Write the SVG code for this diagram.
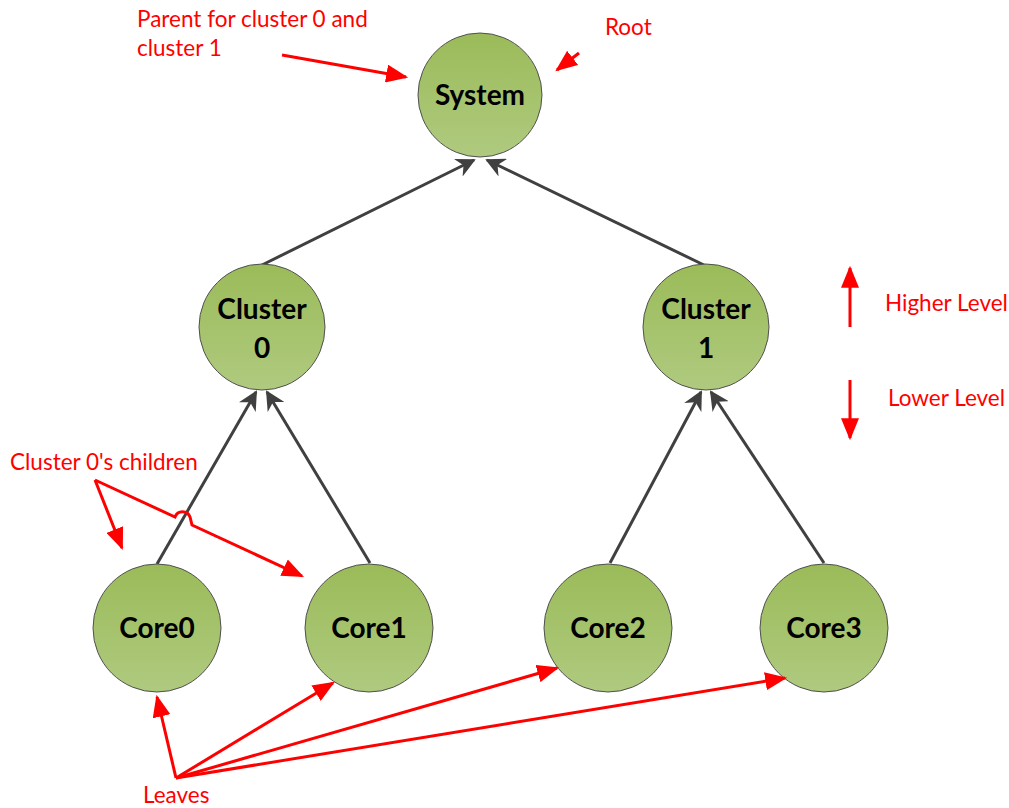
<svg xmlns="http://www.w3.org/2000/svg" width="1009" height="808" viewBox="0 0 1009 808">
<style>
.node{stroke:#505050;stroke-width:1;fill:url(#g)}
.nt{font-family:Lato,"Open Sans",sans-serif;font-weight:bold;font-size:28px;fill:#000;text-anchor:middle}
.edge{stroke:#404040;stroke-width:3;fill:none;marker-end:url(#ga)}
.ann{stroke:#ff0000;stroke-width:3;fill:none;marker-end:url(#ra)}
.at{font-family:Lato,"Open Sans",sans-serif;font-size:22.5px;fill:#ff0000}
</style>
<defs>
<linearGradient id="g" x1="0" y1="0" x2="0" y2="1">
<stop offset="0" stop-color="#9bbb59"/>
<stop offset="1" stop-color="#afca7f"/>
</linearGradient>
<marker id="ga" viewBox="0 0 10 10" refX="9" refY="5" markerWidth="6.5" markerHeight="6.5" orient="auto" markerUnits="strokeWidth">
<path d="M0,0 L10,5 L0,10 L3,5 z" fill="#404040"/>
</marker>
<marker id="ra" viewBox="0 0 10 10" refX="9" refY="5" markerWidth="22" markerHeight="18" orient="auto" markerUnits="userSpaceOnUse" preserveAspectRatio="none">
<path d="M0,0 L10,5 L0,10 z" fill="#ff0000"/>
</marker>
</defs>
<g id="connectors">
<path class="edge" d="M262,265 L474,160"/>
<path class="edge" d="M706,266 L487,160"/>
<path class="edge" d="M157,564 L256,392"/>
<path class="edge" d="M370,563 L267,392"/>
<path class="edge" d="M610,563 L701,392"/>
<path class="edge" d="M824,563 L711,392"/>
</g>
<g id="node-system"><circle class="node" cx="480" cy="95" r="62"/><text class="nt" x="480" y="105">System</text></g>
<g id="node-cluster0"><circle class="node" cx="262" cy="327" r="63"/><text class="nt" x="262" y="319">Cluster</text><text class="nt" x="262" y="358">0</text></g>
<g id="node-cluster1"><circle class="node" cx="706" cy="327" r="63"/><text class="nt" x="706" y="319">Cluster</text><text class="nt" x="706" y="358">1</text></g>
<g id="node-core0"><circle class="node" cx="157" cy="628" r="64"/><text class="nt" x="157" y="638">Core0</text></g>
<g id="node-core1"><circle class="node" cx="369" cy="628" r="64"/><text class="nt" x="369" y="638">Core1</text></g>
<g id="node-core2"><circle class="node" cx="608" cy="628" r="64"/><text class="nt" x="608" y="638">Core2</text></g>
<g id="node-core3"><circle class="node" cx="824" cy="628" r="64"/><text class="nt" x="824" y="638">Core3</text></g>
<g id="annotations">
<text class="at" x="137" y="27">Parent for cluster 0 and</text>
<text class="at" x="137" y="56">cluster 1</text>
<path class="ann" d="M282,55 L406,77"/>
<text class="at" x="605" y="35">Root</text>
<path class="ann" d="M579,53 L557,70"/>
<text class="at" x="885" y="311">Higher Level</text>
<path class="ann" d="M850,327 L850,268"/>
<text class="at" x="888" y="406">Lower Level</text>
<path class="ann" d="M850,380 L850,438"/>
<text class="at" x="10" y="470">Cluster 0's children</text>
<path class="ann" d="M95,480 L122,548"/>
<path class="ann" d="M95,480 L175,517 A8,8 0 0 1 190,517 L192,525 L302,576"/>
<text class="at" x="143" y="803">Leaves</text>
<path class="ann" d="M176,778 L157,697"/>
<path class="ann" d="M176,778 L333,683"/>
<path class="ann" d="M176,778 L557,668"/>
<path class="ann" d="M176,778 L785,678"/>
</g>
</svg>
